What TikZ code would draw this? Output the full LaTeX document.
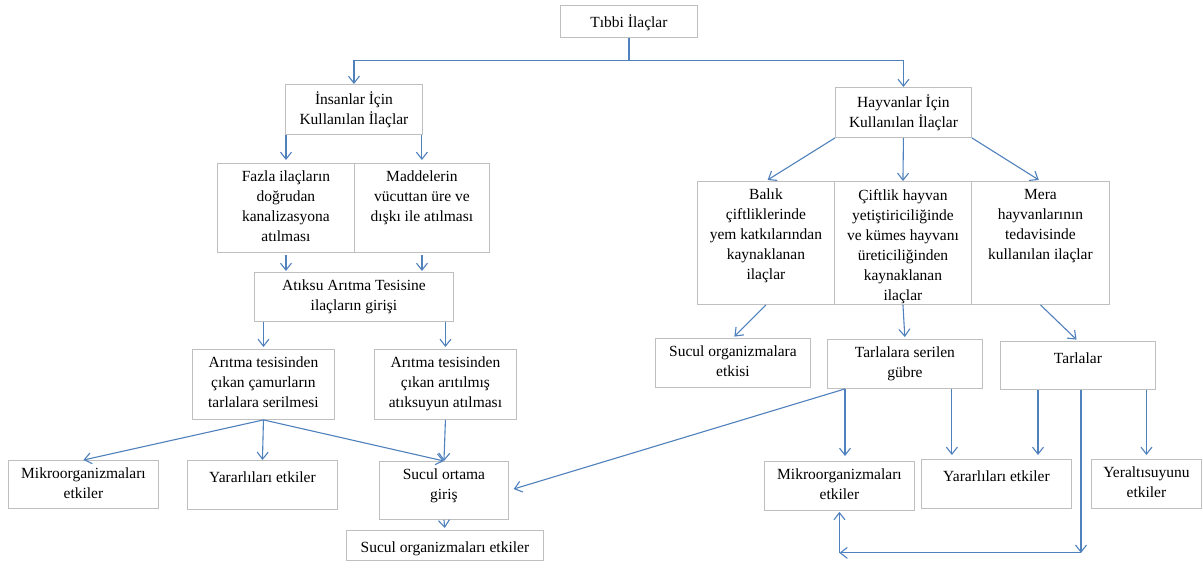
\documentclass[tikz,border=0pt]{standalone}
\usepackage{fontspec}
\setmainfont{Liberation Serif}
\usetikzlibrary{arrows.meta, positioning, calc}
\definecolor{okmavi}{RGB}{79,129,189}
\definecolor{kutugri}{RGB}{191,191,191}
\tikzset{
    kutu/.style={draw=kutugri, line width=0.9pt, inner sep=0pt, anchor=north west},
    yazi/.style={font=\fontsize{15.5}{20}\selectfont, align=center, inner sep=0pt,
        execute at begin node={\rule{0pt}{14pt}}, anchor=north, yshift=-8pt},
    ok/.style={draw=okmavi, line width=1.1pt, -{Straight Barb[length=7pt,width=11pt]}},
    hat/.style={draw=okmavi, line width=1.1pt}
}

\begin{document}
\begin{tikzpicture}[x=1pt, y=-1pt]
    \useasboundingbox[fill=white] (0,0) rectangle (1203,563);
    % kutular
    \node[kutu, minimum width=137, minimum height=32, label={[yazi]north:{Tıbbi İlaçlar}}] (tibbi) at (560,5) {};
    \node[kutu, minimum width=137, minimum height=50, label={[yazi]north:{İnsanlar İçin\\Kullanılan İlaçlar}}] (insan) at (285,84) {};
    \node[kutu, minimum width=136, minimum height=50, label={[yazi]north:{Hayvanlar İçin\\Kullanılan İlaçlar}}] (hay) at (835,87) {};
    \node[kutu, minimum width=137, minimum height=89, label={[yazi]north:{Fazla ilaçların\\doğrudan\\kanalizasyona\\atılması}}] (fazla) at (217,163) {};
    \node[kutu, minimum width=135, minimum height=89, label={[yazi]north:{Maddelerin\\vücuttan üre ve\\dışkı ile atılması}}] (madde) at (354,163) {};
    \node[kutu, minimum width=199, minimum height=49, label={[yazi]north:{Atıksu Arıtma Tesisine\\ilaçların girişi}}] (atik) at (254,272) {};
    \node[kutu, minimum width=142, minimum height=70, label={[yazi]north:{Arıtma tesisinden\\çıkan çamurların\\tarlalara serilmesi}}] (camur) at (192,349) {};
    \node[kutu, minimum width=142, minimum height=70, label={[yazi]north:{Arıtma tesisinden\\çıkan arıtılmış\\atıksuyun atılması}}] (aritil) at (374,349) {};
    \node[kutu, minimum width=150, minimum height=48, label={[yazi]north:{Mikroorganizmaları\\etkiler}}] (mikroL) at (8,460) {};
    \node[kutu, minimum width=150, minimum height=49, label={[yazi]north:{Yararlıları etkiler}}] (yararL) at (187,460) {};
    \node[kutu, minimum width=129, minimum height=58, label={[yazi]north:{Sucul ortama\\giriş}}] (sucul) at (379,461) {};
    \node[kutu, minimum width=197, minimum height=30, label={[yazi]north:{Sucul organizmaları etkiler}}] (suorg) at (346,530) {};
    \node[kutu, minimum width=137, minimum height=123, label={[yazi]north:{Balık\\çiftliklerinde\\yem katkılarından\\kaynaklanan\\ilaçlar}}] (balik) at (697,181) {};
    \node[kutu, minimum width=137, minimum height=123, label={[yazi]north:{Çiftlik hayvan\\yetiştiriciliğinde\\ve kümes hayvanı\\üreticiliğinden\\kaynaklanan\\ilaçlar}}] (ciftlik) at (834,181) {};
    \node[kutu, minimum width=138, minimum height=123, label={[yazi]north:{Mera\\hayvanlarının\\tedavisinde\\kullanılan ilaçlar}}] (mera) at (971,181) {};
    \node[kutu, minimum width=155, minimum height=49, label={[yazi]north:{Sucul organizmalara\\etkisi}}] (sorg) at (655,338) {};
    \node[kutu, minimum width=155, minimum height=49, label={[yazi]north:{Tarlalara serilen\\gübre}}] (gubre) at (827,339) {};
    \node[kutu, minimum width=155, minimum height=48, label={[yazi]north:{Tarlalar}}] (tarla) at (1000,341) {};
    \node[kutu, minimum width=150, minimum height=49, label={[yazi]north:{Mikroorganizmaları\\etkiler}}] (mikroR) at (764,461) {};
    \node[kutu, minimum width=150, minimum height=49, label={[yazi]north:{Yararlıları etkiler}}] (yararR) at (921,459) {};
    \node[kutu, minimum width=110, minimum height=49, label={[yazi]north:{Yeraltısuyunu\\etkiler}}] (yeralti) at (1091,459) {};
    % ust dal
    \draw[hat] (tibbi.south) -- ++(0,23) coordinate (dal);
    \draw[ok] (dal) -| (insan.north);
    \draw[ok] (dal) -| (hay.north);
    % insanlar
    \draw[ok, shorten >=3pt] ($(insan.south west)+(1,0)$) -- ($(insan.south west |- fazla.north)+(1,0)$);
    \draw[ok, shorten >=3pt] ($(insan.south east)+(-1,0)$) -- ($(insan.south east |- fazla.north)+(-1,0)$);
    \draw[ok, shorten <=2pt, shorten >=1pt] (fazla.south) -- (fazla.south |- atik.north);
    \draw[ok, shorten <=2pt, shorten >=1pt] (madde.south) -- (madde.south |- atik.north);
    \draw[ok, shorten >=2pt] (atik.south -| camur.north) -- (camur.north);
    \draw[ok, shorten >=2pt] (atik.south -| aritil.north) -- (aritil.north);
    \draw[ok] (camur.south) -- (mikroL.north);
    \draw[ok] (camur.south) -- (yararL.north);
    \draw[ok] (camur.south) -- (sucul.north);
    \draw[ok] (aritil.south) -- (sucul.north);
    \draw[ok, shorten >=2pt] (sucul.south) -- (suorg.north);
    % hayvanlar
    \draw[ok, shorten >=2pt] (hay.south west) -- (balik.north);
    \draw[ok] (hay.south) -- (ciftlik.north);
    \draw[ok, shorten >=2pt] (hay.south east) -- (mera.north);
    \draw[ok, shorten >=2pt] (balik.south) -- (sorg.north);
    \draw[ok, shorten >=2pt] (ciftlik.south) -- (gubre.north);
    \draw[ok, shorten >=2pt] (mera.south) -- (tarla.north);
    % gubre ve tarlalar
    \coordinate (g1) at ($(gubre.south west)+(18,0)$);
    \draw[ok, shorten >=5pt] (g1) -- (sucul.east);
    \draw[ok, shorten >=5pt] (g1) -- (g1 |- mikroR.north);
    \draw[ok, shorten >=4pt] ($(gubre.south east)+(-31,0)$) -- ($(gubre.south east |- yararR.north)+(-31,0)$);
    \draw[ok, shorten >=4pt] ($(tarla.south west)+(38,0)$) -- ($(tarla.south west |- yararR.north)+(38,0)$);
    \draw[ok, shorten >=4pt] (tarla.south -| yeralti.north) -- (yeralti.north);
    \draw[ok] ($(tarla.south west)+(81,0)$) -- ++(0,163) coordinate (k1);
    \draw[ok] (k1) -- (k1 -| mikroR.south) coordinate (k2);
    \draw[ok, shorten >=1pt] (k2) -- (mikroR.south);
\end{tikzpicture}
\end{document}
